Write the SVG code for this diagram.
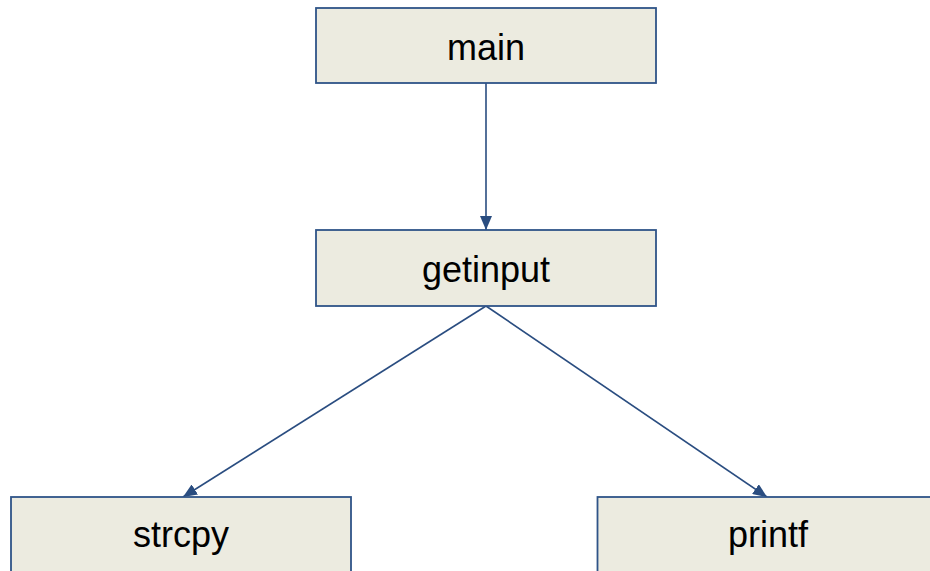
<svg xmlns="http://www.w3.org/2000/svg" width="930" height="571" viewBox="0 0 930 571">
<style>
.box{fill:#ecebe0;stroke:#2f5488;stroke-width:1.8}
.lbl{font-family:"Liberation Sans",Arial,sans-serif;font-size:36px;fill:#000;text-anchor:middle}
.edge{stroke:#2a4d80;stroke-width:1.6;fill:none;marker-end:url(#ah)}
</style>
<defs>
<marker id="ah" markerUnits="userSpaceOnUse" markerWidth="14" markerHeight="12" refX="14" refY="6" orient="auto">
<path d="M0,0 L14,6 L0,12 Z" fill="#2a4d80"/>
</marker>
</defs>
<rect width="930" height="571" fill="#fff"/>
<g id="connectors">
<line class="edge" x1="486" y1="83" x2="486" y2="230"/>
<line class="edge" x1="486" y1="306" x2="183" y2="497"/>
<line class="edge" x1="486" y1="306" x2="767" y2="497"/>
</g>
<g id="main"><rect class="box" x="316" y="8" width="340" height="75"/><text class="lbl" x="486" y="60">main</text></g>
<g id="getinput"><rect class="box" x="316" y="230" width="340" height="76"/><text class="lbl" x="486" y="282">getinput</text></g>
<g id="strcpy"><rect class="box" x="11" y="497" width="340" height="90"/><text class="lbl" x="181" y="547">strcpy</text></g>
<g id="printf"><rect class="box" x="597.5" y="497" width="360" height="90"/><text class="lbl" x="768" y="547">printf</text></g>
</svg>
